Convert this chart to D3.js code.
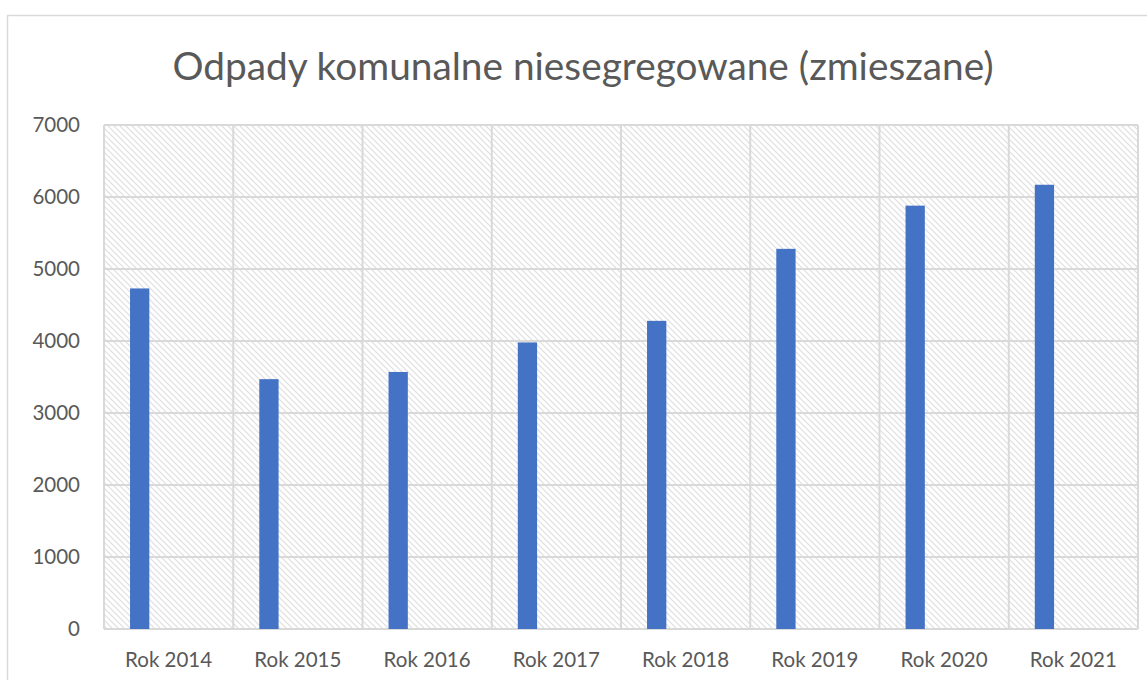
<!DOCTYPE html>
<html>
<head>
<meta charset="utf-8">
<script src="https://cdn.jsdelivr.net/npm/d3@7"></script>
<style>
  body { margin: 0; background: #fff; }
  svg { display: block; }
</style>
</head>
<body>
<div class="chart"></div>
<script>
let categories = ["Rok 2014", "Rok 2015", "Rok 2016", "Rok 2017", "Rok 2018", "Rok 2019", "Rok 2020", "Rok 2021"];
let values = [4730, 3470, 3570, 3980, 4280, 5280, 5880, 6170];
let yTicks = [0, 1000, 2000, 3000, 4000, 5000, 6000, 7000];
let title = "Odpady komunalne niesegregowane (zmieszane)";

let width = 1147,
  height = 680,
  plotLeft = 104,
  plotRight = 1138,
  plotTop = 125,
  plotBottom = 629;

let svg = d3
  .select(".chart")
  .append("svg")
  .attr("width", width)
  .attr("height", height);

// hatch fill for the plot area
let pattern = svg
  .append("defs")
  .append("pattern")
  .attr("id", "hatch")
  .attr("patternUnits", "userSpaceOnUse")
  .attr("width", 6)
  .attr("height", 6);
pattern
  .append("path")
  .attr("d", "M-1,-1 L7,7 M-1,5 L1,7 M5,-1 L7,1")
  .attr("stroke", "#dedede")
  .attr("stroke-width", 1.2);

// outer chart border
svg
  .append("rect")
  .attr("x", 7.5)
  .attr("y", 15.5)
  .attr("width", width + 10)
  .attr("height", height + 10)
  .attr("fill", "none")
  .attr("stroke", "#d9d9d9")
  .attr("stroke-width", 1.5);

svg
  .append("text")
  .attr("x", 583)
  .attr("y", 80)
  .attr("text-anchor", "middle")
  .style("font-family", "Lato, 'Open Sans', sans-serif")
  .style("font-size", "38.8px")
  .style("fill", "#595959")
  .text(title);

let xScale = d3
  .scaleBand()
  .domain(categories)
  .range([plotLeft, plotRight]);

let yScale = d3
  .scaleLinear()
  .domain([0, 7000])
  .range([plotBottom, plotTop]);

svg
  .append("rect")
  .attr("x", plotLeft)
  .attr("y", plotTop)
  .attr("width", plotRight - plotLeft)
  .attr("height", plotBottom - plotTop)
  .attr("fill", "url(#hatch)");

// horizontal gridlines
svg
  .append("g")
  .selectAll("line")
  .data(yTicks)
  .enter()
  .append("line")
  .attr("x1", plotLeft)
  .attr("x2", plotRight)
  .attr("y1", d => yScale(d))
  .attr("y2", d => yScale(d))
  .attr("stroke", "#d9d9d9")
  .attr("stroke-width", 2);

// vertical gridlines at category edges
let edges = categories.map(c => xScale(c)).concat([plotRight]);
svg
  .append("g")
  .selectAll("line")
  .data(edges)
  .enter()
  .append("line")
  .attr("x1", d => d)
  .attr("x2", d => d)
  .attr("y1", plotTop)
  .attr("y2", plotBottom)
  .attr("stroke", "#d9d9d9")
  .attr("stroke-width", 2);

// bars: first slot of a 4-slot cluster (other series empty)
let inner = d3
  .scaleBand()
  .domain([0, 1, 2, 3])
  .range([0, xScale.bandwidth()])
  .paddingOuter(1.35);

svg
  .append("g")
  .selectAll("rect")
  .data(values)
  .enter()
  .append("rect")
  .attr("x", (d, i) => xScale(categories[i]) + inner(0))
  .attr("y", d => yScale(d))
  .attr("width", inner.bandwidth())
  .attr("height", d => plotBottom - yScale(d))
  .attr("fill", "#4472c4");

// y labels
let yAxis = d3
  .axisLeft(yScale)
  .tickValues(yTicks)
  .tickFormat(d3.format("d"))
  .tickSize(0)
  .tickPadding(24);
let yAxisGroup = svg
  .append("g")
  .attr("transform", "translate(" + plotLeft + ",0)")
  .call(yAxis);
yAxisGroup.select(".domain").remove();
yAxisGroup
  .selectAll("text")
  .style("font-family", "Lato, 'Open Sans', sans-serif")
  .style("font-size", "20.5px")
  .style("fill", "#595959");

// x labels
let xAxis = d3.axisBottom(xScale).tickSize(0).tickPadding(23);
let xAxisGroup = svg
  .append("g")
  .attr("transform", "translate(0," + plotBottom + ")")
  .call(xAxis);
xAxisGroup.select(".domain").remove();
xAxisGroup
  .selectAll("text")
  .style("font-family", "Lato, 'Open Sans', sans-serif")
  .style("font-size", "20.5px")
  .style("fill", "#595959");
</script>
</body>
</html>
